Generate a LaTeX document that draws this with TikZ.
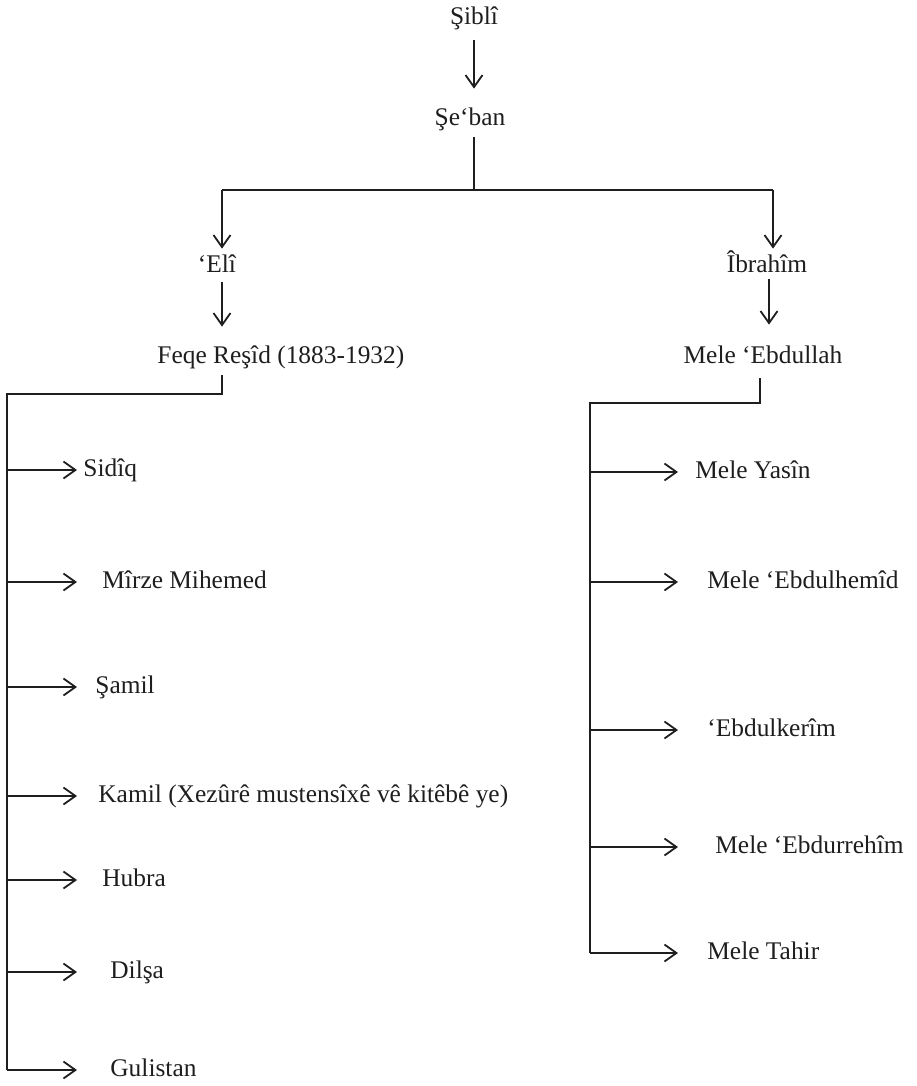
\documentclass[tikz,border=0pt]{standalone}
\usepackage{fontspec}
\setmainfont{Liberation Serif}
\usetikzlibrary{arrows.meta}
\definecolor{ink}{HTML}{1E1E1E}
\begin{document}
\begin{tikzpicture}[x=0.5pt,y=-0.5pt,
  lbl/.style={inner sep=0pt, text height=8.5pt, text depth=2.5pt,
              font=\fontsize{12.7}{15}\selectfont, text=ink},
  kid/.style={lbl, anchor=base west},
  ln/.style={draw=ink, line width=0.9pt},
  arr/.style={ln, -{Straight Barb[length=6pt,width=8.5pt,line width=0.9pt]}}]
\useasboundingbox (0,0) rectangle (916,1086);

% top chain
\node[lbl,anchor=base] (sibli) at (474,25) {Şiblî};
\node[lbl,anchor=base] (seban) at (470,126) {Şe‘ban};
\node[lbl,anchor=base] (eli) at (217,272) {‘Elî};
\node[lbl,anchor=base] (ibrahim) at (767,272) {Îbrahîm};
\node[kid] (feqe) at (157,363) {Feqe Reşîd (1883-1932)};
\node[lbl,anchor=base] (ebdullah) at (763,363) {Mele ‘Ebdullah};

\coordinate (top) at (474,190);
\coordinate (lb) at (222,190);
\coordinate (rb) at (773,190);
\coordinate (ra) at (769,190);

\draw[arr, shorten <=5pt, shorten >=10pt] (sibli.south) -- (sibli.south |- seban.north);
\draw[ln, shorten <=3pt] (top |- seban.south) -- (top);
\draw[ln] (lb) -- (rb);
\draw[arr, shorten >=3pt] (lb) -- (lb |- eli.north);
\draw[arr, shorten >=3pt] (rb) -- (rb |- ibrahim.north);
\draw[arr, shorten <=2.5pt, shorten >=9.5pt] (lb |- eli.south) -- (lb |- feqe.north);
\draw[arr, shorten <=1pt, shorten >=10.5pt] (ra |- ibrahim.south) -- (ra |- ebdullah.north);

% left children
\node[kid] (s1) at (83,476) {Sidîq};
\node[kid] (s2) at (102,588) {Mîrze Mihemed};
\node[kid] (s3) at (95,693) {Şamil};
\node[kid] (s4) at (98,802) {Kamil (Xezûrê mustensîxê vê kitêbê ye)};
\node[kid] (s5) at (102,886) {Hubra};
\node[kid] (s6) at (110,978) {Dilşa};
\node[kid] (s7) at (110,1076) {Gulistan};

\coordinate (Lc) at (222,394);
\coordinate (Ltop) at (7,394);
\coordinate (Ltip) at (77,0);
\draw[ln, shorten <=3.5pt] (Lc |- feqe.south) -- (Lc) -- (Ltop) -- (Ltop |- s7.west);
\foreach \k in {s1,s2,s3,s4,s5,s6,s7}
  \draw[arr] (Ltop |- \k.west) -- (Ltip |- \k.west);

% right children
\node[kid] (r1) at (695,478) {Mele Yasîn};
\node[kid] (r2) at (707,588) {Mele ‘Ebdulhemîd};
\node[kid] (r3) at (707,736) {‘Ebdulkerîm};
\node[kid] (r4) at (715,853) {Mele ‘Ebdurrehîm};
\node[kid] (r5) at (707,959) {Mele Tahir};

\coordinate (Rc) at (760,403);
\coordinate (Rtop) at (590,403);
\coordinate (Rtip) at (678,0);
\draw[ln, shorten <=5pt] (Rc |- ebdullah.south) -- (Rc) -- (Rtop) -- (Rtop |- r5.west);
\foreach \k in {r1,r2,r3,r4,r5}
  \draw[arr] (Rtop |- \k.west) -- (Rtip |- \k.west);
\end{tikzpicture}
\end{document}
